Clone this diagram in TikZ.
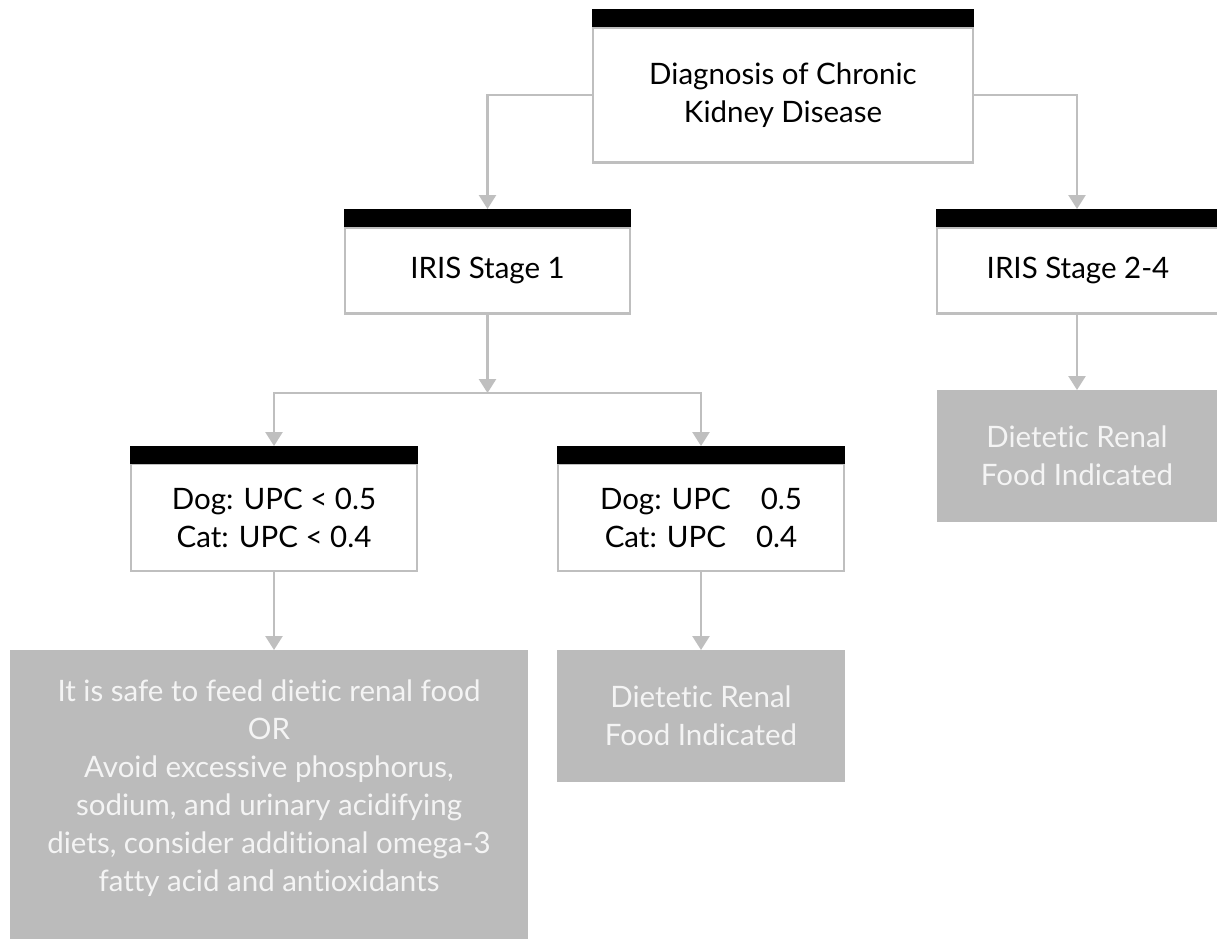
\documentclass[tikz,border=0pt]{standalone}
\usepackage{fontspec}
\setmainfont[Ligatures=NoCommon]{Lato}
\usetikzlibrary{arrows.meta}
\definecolor{linegray}{HTML}{BFBFBF}
\definecolor{fillgray}{HTML}{BBBBBB}
\definecolor{softwhite}{HTML}{F4F4F4}
\begin{document}
\begin{tikzpicture}[x=1pt,y=-1pt,
  every node/.style={inner sep=0pt, outer sep=0pt},
  bar/.style={fill=black, draw=none, minimum height=18pt},
  wbox/.style={draw=linegray, line width=2.5pt, fill=white, align=center,
    font=\fontsize{29.5}{38}\selectfont, text=black},
  gbox/.style={fill=fillgray, draw=none, align=center,
    font=\fontsize{29.5}{38}\selectfont, text=softwhite},
  gtext/.style={align=center, font=\fontsize{29.5}{38}\selectfont, text=softwhite},
  conn/.style={draw=linegray, line width=2.5pt,
    -{Triangle[width=17pt,length=14pt]}}
]
\clip (0,0) rectangle (1217,938);
\fill[white] (0,0) rectangle (1217,938);

% top
\node[wbox, minimum width=380pt, minimum height=135pt] (top) at (783,95) {Diagnosis of Chronic\\Kidney Disease};
\node[bar, minimum width=382pt] (topbar) at (783,18) {};

% IRIS stage 1
\node[wbox, minimum width=285pt, minimum height=86pt] (s1) at (487.5,270.5) {IRIS Stage 1};
\node[bar, minimum width=287pt] (s1bar) at (487.5,218) {};

% IRIS stage 2-4
\node[wbox, minimum width=300pt, minimum height=86pt] (s2) at (1087,270.5) {\hspace*{-18pt}IRIS Stage 2-4};
\node[bar, minimum width=302pt] (s2bar) at (1087,218) {};

% UPC boxes
\node[wbox, minimum width=286pt, minimum height=107pt] (d1) at (274,517.5) {Dog: UPC < 0.5\\Cat: UPC < 0.4};
\node[bar, minimum width=288pt] (d1bar) at (274,455) {};
\node[wbox, minimum width=286pt, minimum height=107pt] (d2) at (701,517.5) {Dog: UPC\hspace{30pt}0.5\\Cat: UPC\hspace{30pt}0.4};
\node[bar, minimum width=288pt] (d2bar) at (701,455) {};

% grey result boxes
\node[gbox, minimum width=518pt, minimum height=300pt, anchor=north west] (g1) at (10,650) {};
\node[gtext] (g1t) at (269,788) {It is safe to feed dietic renal food\\OR\\Avoid excessive phosphorus,\\sodium, and urinary acidifying\\diets, consider additional omega-3\\fatty acid and antioxidants};
\node[gbox, minimum width=288pt, minimum height=132pt, anchor=north west] (g2) at (557,650) {Dietetic Renal\\Food Indicated};
\node[gbox, minimum width=280pt, minimum height=132pt, anchor=north west] (g3) at (937,390) {Dietetic Renal\\Food Indicated};

% connectors
\draw[conn] (top.west) -| (s1bar.north);
\draw[conn] (top.east) -| (s2bar.north -| g3.north);
\coordinate (j) at (487.5,393);
\draw[conn] (s1.south) -- (j);
\draw[conn] (j) -| (d1bar.north);
\draw[conn] (j) -| (d2bar.north);
\draw[conn] (d1.south) -- (d1.south |- g1.north);
\draw[conn] (d2.south) -- (g2.north);
\draw[conn] (s2.south -| g3.north) -- (g3.north);
\end{tikzpicture}
\end{document}
